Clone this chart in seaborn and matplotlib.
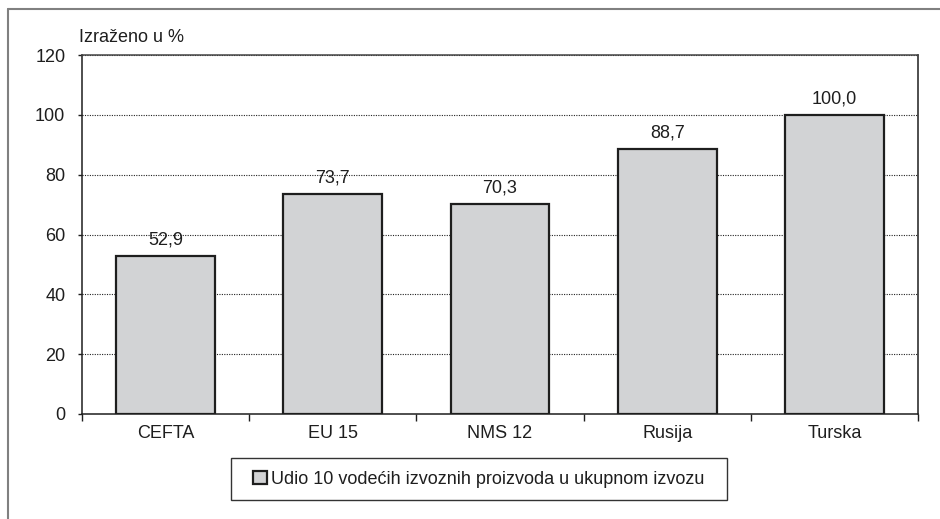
import matplotlib
matplotlib.use("Agg")
import matplotlib.pyplot as plt
from matplotlib.lines import Line2D
from matplotlib.patches import Rectangle
from matplotlib.ticker import FixedLocator
import seaborn as sns
import pandas as pd

categories = ["CEFTA", "EU 15", "NMS 12", "Rusija", "Turska"]
values = [52.9, 73.7, 70.3, 88.7, 100.0]
value_labels = ["52,9", "73,7", "70,3", "88,7", "100,0"]
yticks = [0, 20, 40, 60, 80, 100, 120]
series_name = "Udio 10 vodećih izvoznih proizvoda u ukupnom izvozu"
unit_label = "Izraženo u %"

sns.set_style("white")
plt.rcParams["font.family"] = ["Liberation Sans", "DejaVu Sans"]
FS = 13

df = pd.DataFrame({"cat": categories, "val": values})

W, H = 940, 519
fig = plt.figure(figsize=(W / 100, H / 100), dpi=100)
ax = fig.add_axes([82 / W, 1 - 414 / H, (918 - 82) / W, (414 - 55) / H])

sns.barplot(data=df, x="cat", y="val", color="#d2d3d5", edgecolor="#1e1e1e",
            linewidth=1.6, width=0.59, saturation=1, label=series_name, ax=ax, zorder=3)

ax.set_ylim(0, 120)
ax.set_xlim(-0.5, len(categories) - 0.5)
ax.set_yticks(yticks)
ax.set_yticklabels([str(t) for t in yticks], fontsize=FS)
ax.set_xticks(range(len(categories)))
ax.set_xticklabels(categories, fontsize=FS)
ax.tick_params(axis="x", length=0, pad=8, colors="#1e1e1e")
ax.tick_params(axis="y", length=3, width=1, direction="out", pad=9, colors="#1e1e1e", left=True)
ax.xaxis.set_minor_locator(FixedLocator([i + 0.5 for i in range(-1, len(categories))]))
ax.tick_params(axis="x", which="minor", length=5, width=1, direction="out", bottom=True, color="#1e1e1e")
ax.set_xlabel("")
ax.set_ylabel("")

for y in yticks[1:]:
    ax.axhline(y, color="#222222", linestyle=(0, (1, 1.2)), linewidth=0.8, zorder=1)

for s in ["left", "bottom", "right", "top"]:
    ax.spines[s].set_visible(True)
    ax.spines[s].set_color("#1e1e1e")
    ax.spines[s].set_linewidth(1.1)
ax.spines["top"].set_color("#444444")

for i, (v, lab) in enumerate(zip(values, value_labels)):
    ax.annotate(lab, (i, v), xytext=(0, 5), textcoords="offset points",
                ha="center", va="bottom", fontsize=FS, color="#1e1e1e")

fig.text(79 / W, 1 - 37 / H, unit_label, ha="left", va="center", fontsize=FS, color="#1e1e1e")

# legend box
fig.add_artist(Rectangle((231 / W, 1 - 500 / H), (727 - 231) / W, (500 - 458) / H,
                         transform=fig.transFigure, facecolor="white",
                         edgecolor="#333333", linewidth=1.0, zorder=1))
handles, labels = ax.get_legend_handles_labels()
if ax.get_legend() is not None:
    ax.get_legend().remove()
leg = fig.legend(handles, labels, loc="center", bbox_to_anchor=(479 / W, 1 - 479 / H),
                 bbox_transform=fig.transFigure, frameon=False,
                 fontsize=FS, handlelength=0.75, handleheight=0.75, handletextpad=0.25,
                 borderpad=0.5, borderaxespad=0)
leg.set_zorder(5)
for txt in leg.get_texts():
    txt.set_color("#1e1e1e")

fig.add_artist(Line2D([8 / W, 1], [1 - 9 / H, 1 - 9 / H], color="#808080", linewidth=1.5))
fig.add_artist(Line2D([8 / W, 8 / W], [0, 1 - 9 / H], color="#808080", linewidth=1.5))

fig.savefig("out.png", dpi=100)
